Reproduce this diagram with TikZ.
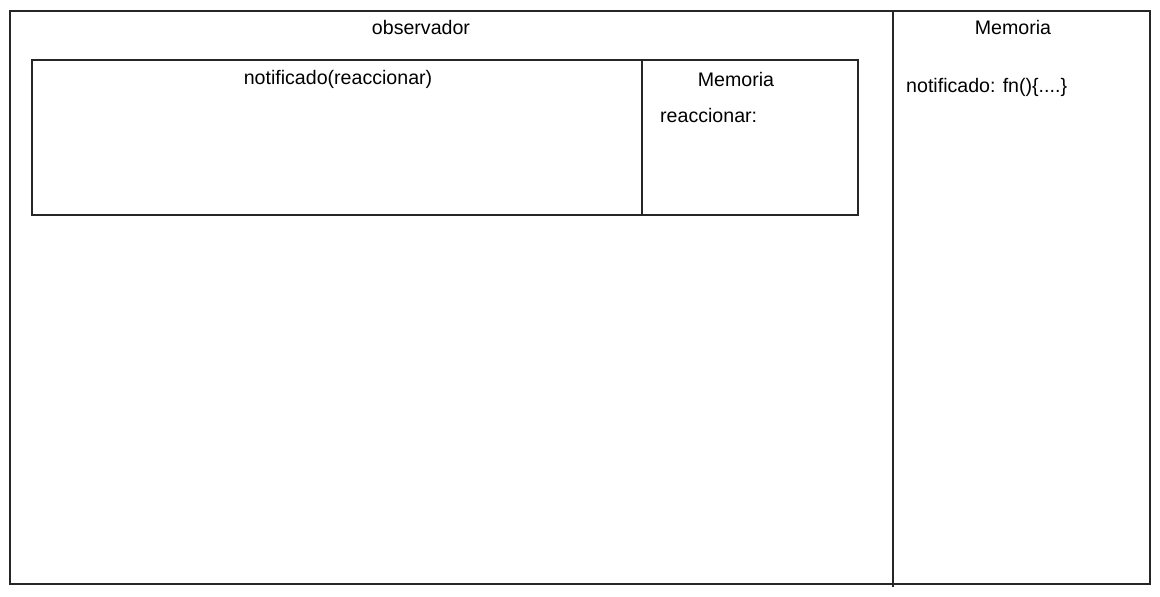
\documentclass[tikz,border=0pt]{standalone}
\usepackage{fontspec}
\setmainfont{Liberation Sans}
\usetikzlibrary{positioning,calc}

\tikzset{
    sketch/.style={draw=black!85, line width=1.1pt},
    label/.style={font=\fontsize{19.6}{23}\selectfont, inner sep=0pt},
}

\begin{document}
\begin{tikzpicture}[x=1pt, y=-1pt]
    \useasboundingbox (0,0) rectangle (1160,597);

    % outer frame and memory column
    \draw[sketch] (10,11) rectangle (1150,584);
    \draw[sketch] (893,10) -- (893,587);
    \node[label] (obs) at (421,27) {observador};
    \node[label] (mem) at (1013,27) {Memoria};
    \node[label, anchor=west] (notif) at (906,87) {notificado: fn()\{....\}};

    % inner box
    \draw[sketch] (32,60) rectangle (858,215);
    \draw[sketch] (642,60) -- (642,215);
    \node[label] (call) at (338,79) {notificado(reaccionar)};
    \node[label] (innermem) at (736,79) {Memoria};
    \node[label, anchor=west] (react) at (660,115) {reaccionar:};
\end{tikzpicture}
\end{document}
